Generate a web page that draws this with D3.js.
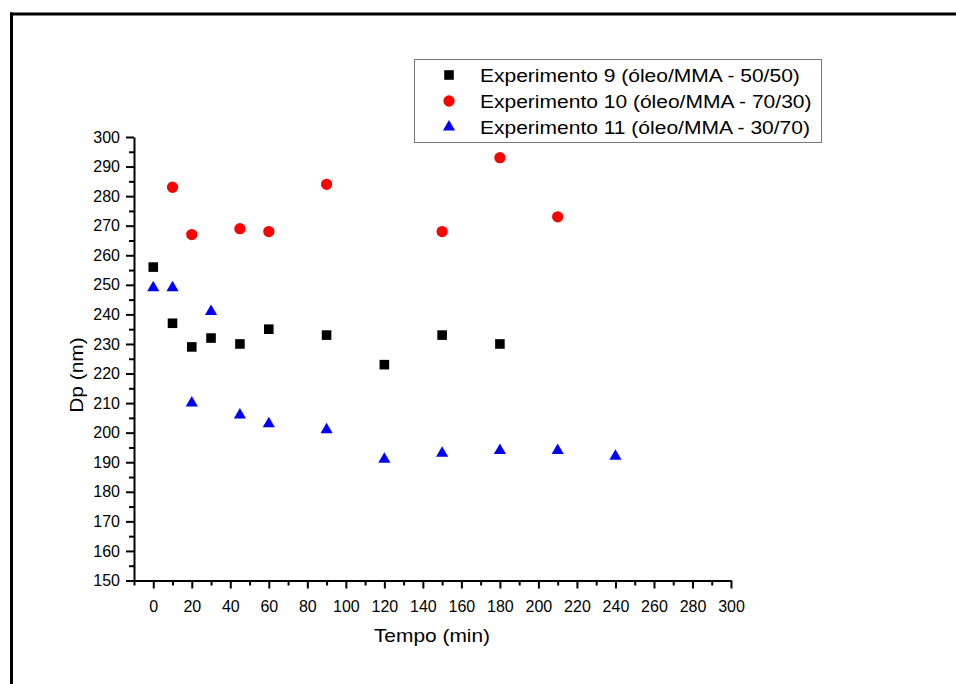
<!DOCTYPE html>
<html>
<head>
<meta charset="utf-8">
<script src="https://cdn.jsdelivr.net/npm/d3@7"></script>
<style>
  html, body { margin: 0; padding: 0; background: #fff; }
  svg text { font-family: "Liberation Sans", Arial, sans-serif; fill: #000; }
</style>
</head>
<body>
<svg id="chart" width="956" height="684"></svg>
<script>
  // values
  var exp9Tempo  = [0, 10, 20, 30, 45, 60, 90, 120, 150, 180];
  var exp9Dp     = [256, 237, 229, 232, 230, 235, 233, 223, 233, 230];

  var exp10Tempo = [10, 20, 45, 60, 90, 150, 180, 210];
  var exp10Dp    = [283, 267, 269, 268, 284, 268, 293, 273];

  var exp11Tempo = [0, 10, 20, 30, 45, 60, 90, 120, 150, 180, 210, 240];
  var exp11Dp    = [249, 249, 210, 241, 206, 203, 201, 191, 193, 194, 194, 192];

  var seriesNames = [
    'Experimento 9 (óleo/MMA - 50/50)',
    'Experimento 10 (óleo/MMA - 70/30)',
    'Experimento 11 (óleo/MMA - 30/70)'
  ];

  var xMajorTicks = d3.range(0, 301, 20);
  var xMinorTicks = d3.range(-10, 300, 20);
  var yMajorTicks = d3.range(150, 301, 10);
  var yMinorTicks = d3.range(155, 300, 10);

  var svg = d3.select('#chart');

  var x = d3.scaleLinear().domain([-10, 300]).range([134, 731]);
  var y = d3.scaleLinear().domain([150, 300]).range([580.5, 137]);

  // stretch text horizontally a bit, like the source image
  function stretch(sel, k) {
    sel.each(function() {
      var w = this.getComputedTextLength();
      d3.select(this).attr('textLength', w * k).attr('lengthAdjust', 'spacingAndGlyphs');
    });
  }

  // outer frame (top and left edges only are visible)
  svg.append('line')
    .attr('x1', 10).attr('x2', 956).attr('y1', 14).attr('y2', 14)
    .attr('stroke', '#000').attr('stroke-width', 3);
  svg.append('line')
    .attr('x1', 11.5).attr('x2', 11.5).attr('y1', 12.5).attr('y2', 684)
    .attr('stroke', '#000').attr('stroke-width', 3);

  // x axis
  var xAxis = svg.append('g')
    .attr('transform', 'translate(0,' + y(150) + ')')
    .call(d3.axisBottom(x).tickValues(xMajorTicks).tickSize(8).tickPadding(8).tickSizeOuter(0));
  svg.append('g')
    .attr('transform', 'translate(0,' + y(150) + ')')
    .call(d3.axisBottom(x).tickValues(xMinorTicks).tickSize(5).tickFormat('').tickSizeOuter(0))
    .select('.domain').remove();

  // y axis
  var yAxis = svg.append('g')
    .attr('transform', 'translate(' + x(-10) + ',0)')
    .call(d3.axisLeft(y).tickValues(yMajorTicks).tickSize(8).tickPadding(6).tickSizeOuter(0));
  svg.append('g')
    .attr('transform', 'translate(' + x(-10) + ',0)')
    .call(d3.axisLeft(y).tickValues(yMinorTicks).tickSize(5).tickFormat('').tickSizeOuter(0))
    .select('.domain').remove();

  svg.selectAll('.domain, .tick line')
    .attr('stroke', '#000').attr('stroke-width', 2);
  svg.selectAll('.tick text')
    .style('font-family', '"Liberation Sans", Arial, sans-serif')
    .attr('font-size', 16).attr('fill', '#000');
  xAxis.selectAll('.tick text').attr('dy', '0.95em');

  // axis titles
  svg.append('text')
    .attr('x', 432).attr('y', 642)
    .attr('text-anchor', 'middle')
    .attr('font-size', 19)
    .text('Tempo (min)')
    .call(stretch, 1.1);

  svg.append('text')
    .attr('transform', 'translate(83,375) rotate(-90)')
    .attr('text-anchor', 'middle')
    .attr('font-size', 19)
    .text('Dp (nm)')
    .call(stretch, 1.1);

  // markers
  var square = d3.symbol().type(d3.symbolSquare).size(92);
  var circle = d3.symbol().type(d3.symbolCircle).size(100);
  var triangle = d3.symbol().type(d3.symbolTriangle).size(64);

  var series = [
    { t: exp9Tempo,  v: exp9Dp,  path: square,   color: '#000000' },
    { t: exp10Tempo, v: exp10Dp, path: circle,   color: '#ff0000' },
    { t: exp11Tempo, v: exp11Dp, path: triangle, color: '#0000ff' }
  ];

  series.forEach(function(s) {
    svg.append('g').selectAll('path')
      .data(d3.range(s.t.length))
      .enter().append('path')
      .attr('d', s.path())
      .attr('fill', s.color)
      .attr('transform', function(i) {
        return 'translate(' + x(s.t[i]) + ',' + y(s.v[i]) + ')';
      });
  });

  // legend
  var legend = svg.append('g');
  legend.append('rect')
    .attr('x', 414.5).attr('y', 59.5).attr('width', 407).attr('height', 83)
    .attr('fill', '#fff').attr('stroke', '#777').attr('stroke-width', 1);

  seriesNames.forEach(function(name, i) {
    var base = 82 + i * 26;
    legend.append('path')
      .attr('d', series[i].path())
      .attr('fill', series[i].color)
      .attr('transform', 'translate(449,' + (base - 7) + ')');
    legend.append('text')
      .attr('x', 480).attr('y', base)
      .attr('font-size', 17.5)
      .text(name)
      .call(stretch, 1.2);
  });
</script>
</body>
</html>
